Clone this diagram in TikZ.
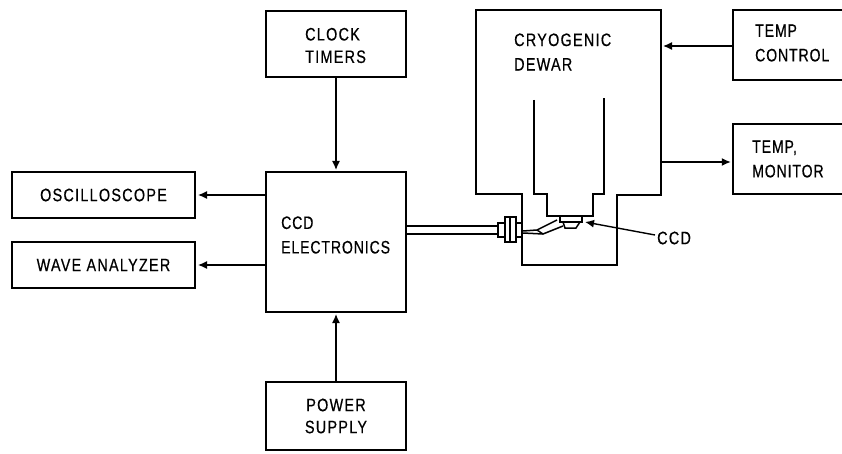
\documentclass[tikz,border=0pt]{standalone}
\usepackage{fontspec}
\setmainfont{Liberation Sans}
\newfontfamily\lblfont[FakeStretch=0.8,FakeBold=0.5,LetterSpace=7]{Liberation Sans}
\newfontfamily\lblnarrow[FakeStretch=0.78,FakeBold=0.5,LetterSpace=5]{Liberation Sans}
\usetikzlibrary{arrows.meta}
\tikzset{
  x=1pt,y=-1pt,
  block/.style={draw=black,line width=2pt,inner sep=0pt,align=center,font=\fontsize{18}{22}\lblfont},
  outline/.style={draw=black,line width=2pt,line join=miter},
  thin wall/.style={draw=black,line width=1.5pt},
  flow/.style={draw=black,line width=1.4pt,shorten >=2pt,-{Latex[length=9pt,width=8pt]}},
  lbl/.style={inner sep=0pt,align=left,font=\fontsize{18}{24.5}\lblnarrow}
}
\begin{document}
\begin{tikzpicture}
\useasboundingbox (0,0) rectangle (842,454);
\fill[white] (0,0) rectangle (842,454);
% blocks
\node[block,minimum width=140pt,minimum height=66pt] (clock) at (336,44.5) {};
\node[lbl,anchor=west,font=\fontsize{18}{22.5}\lblfont] (clocklbl) at (305,45.5) {CLOCK\\TIMERS};
\node[block,minimum width=140pt,minimum height=140pt] (elec) at (336,242) {};
\node[lbl,anchor=west] (eleclbl) at (281,235) {CCD\\ELECTRONICS};
\node[block,minimum width=140pt,minimum height=68pt] (power) at (336,416) {POWER\\SUPPLY};
\node[block,minimum width=183pt,minimum height=46pt] (osc) at (103.5,195) {OSCILLOSCOPE};
\node[block,minimum width=183pt,minimum height=46pt] (wave) at (103.5,265) {WAVE ANALYZER};
% right-hand boxes run off the picture's edge
\node[inner sep=0pt,minimum width=109pt,minimum height=70pt] (ctrl) at (787.5,45) {};
\node[inner sep=0pt,minimum width=109pt,minimum height=70pt] (mon) at (787.5,159) {};
\draw[outline] (843,10) -| (733,80) -- (843,80);
\draw[outline] (843,124) -| (733,194) -- (843,194);
\node[lbl,anchor=west] (ctrllbl) at (755,43) {TEMP\\CONTROL};
\node[lbl,anchor=west] (monlbl) at (752,159) {TEMP,\\MONITOR};
% dewar
\coordinate (dctrl) at (661,46);
\coordinate (dmon) at (661,162);
\draw[outline] (522,194) -- (476,194) -- (476,10) -- (661,10) -- (661,195) -- (617,195) -- (617,265) -- (522,265) -- cycle;
\node[lbl,anchor=west,font=\fontsize{18}{24.5}\lblfont] (dewarlbl) at (514,52) {CRYOGENIC\\DEWAR};
% inner well
\draw[thin wall] (534,100) -- (534,194) -- (547,194) -- (547,216) -- (593,216) -- (593,194) -- (604,194) -- (604,98);
% CCD chip and leads
\draw[thin wall] (560,216) -- (560,222) -- (582,222) -- (582,216);
\draw[thin wall] (563,222) -- (565,228) -- (576,228) -- (580,222);
\draw[thin wall] (523,231) -- (537,230) -- (557,220);
\draw[thin wall] (523,233) -- (543,234) -- (563,226);
\draw[thin wall] (537,230) -- (543,234);
% cable and connector
\coordinate (cableA) at (498,226);
\coordinate (cableB) at (498,234);
\draw[thin wall] (elec.east |- cableA) -- (cableA);
\draw[thin wall] (elec.east |- cableB) -- (cableB);
\draw[thin wall,fill=white] (498,223) rectangle (505,237);
\draw[thin wall,fill=white] (516,223) rectangle (522,237);
\draw[thin wall,fill=white] (505,217) rectangle (516,242);
\draw[thin wall] (510,217) -- (510,242);
% connectors
\draw[flow,shorten >=1pt] (clock) -- (elec);
\draw[flow,shorten >=1pt] (power) -- (elec);
\draw[flow] (elec.west |- osc) -- (osc);
\draw[flow] (elec.west |- wave) -- (wave);
\draw[flow] (ctrl.west |- dctrl) -- (dctrl);
\draw[flow] (dmon) -- (mon.west |- dmon);
\node[lbl,anchor=west,font=\fontsize{18}{24.5}\lblfont] (ccdlbl) at (657,238) {CCD};
\coordinate (ccdtip) at (585,222);
\draw[flow,shorten >=0pt] (ccdlbl.west) ++(-2,-3) -- (ccdtip);
\end{tikzpicture}
\end{document}
